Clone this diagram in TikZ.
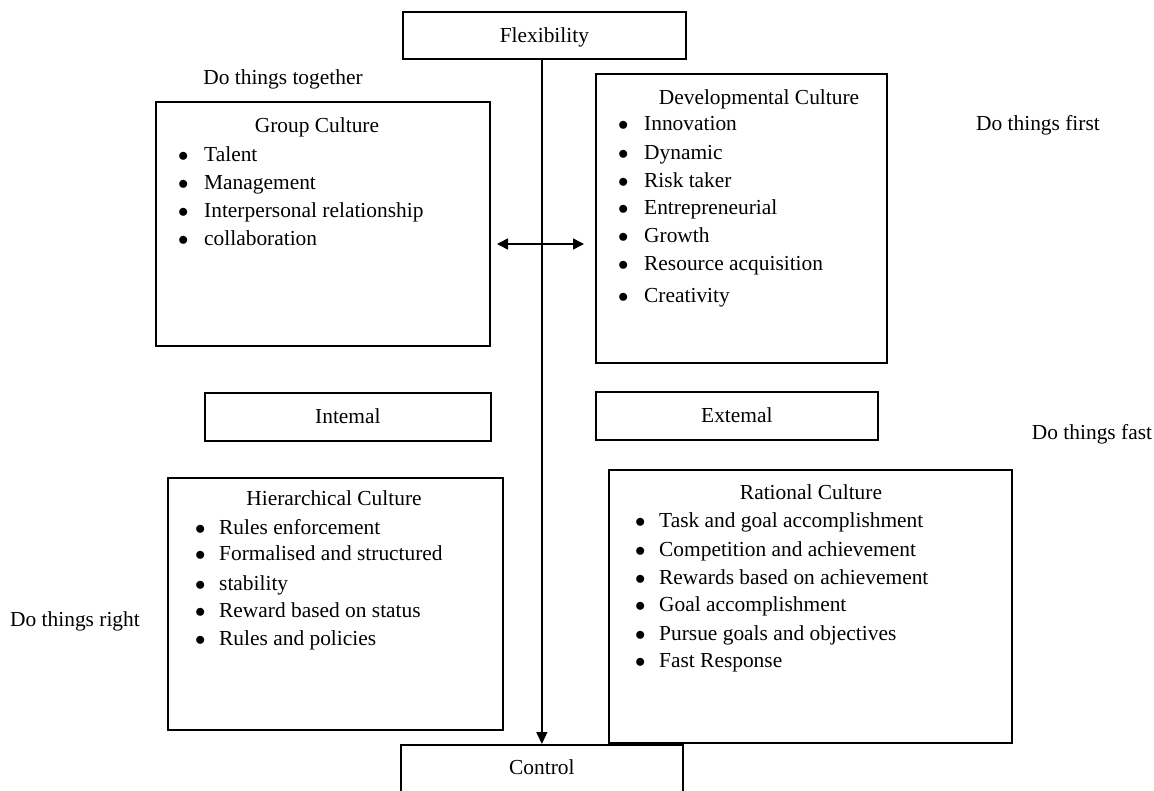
\documentclass[tikz,border=0pt]{standalone}
\usepackage{fontspec}
\setmainfont{Liberation Serif}
\usetikzlibrary{arrows.meta, positioning}
\newcommand{\bul}{\makebox[26pt][l]{$\bullet$}}
\tikzset{
  box/.style={draw, line width=1.7pt, anchor=north west, inner sep=0pt},
  title/.style={inner sep=0pt, text height=17pt, text depth=4pt},
  item/.style={anchor=west, inner sep=0pt, text height=17pt, text depth=4pt},
  tag/.style={inner sep=0pt, text height=17pt, text depth=4pt},
  arrow/.style={-{Triangle[length=12pt, width=11pt]}, line width=1.4pt},
  dblarrow/.style={{Triangle[length=11pt, width=11pt]}-{Triangle[length=11pt, width=11pt]}, line width=1.6pt},
  every node/.style={font=\fontsize{21.4}{26}\selectfont}
}

\begin{document}
\begin{tikzpicture}[x=1pt, y=-1pt]
    \useasboundingbox (0,0) rectangle (1154,790);
    % axis boxes
    \node[box, minimum width=283pt, minimum height=47pt] (flex) at (402,11) {};
    \node[tag] at ([yshift=-1pt]flex.center) (flextext) {Flexibility};
    \node[box, minimum width=282pt, minimum height=50pt] (control) at (400,744) {};
    \node[tag] at ([yshift=-24pt]control.north) (controltext) {Control};
    \node[box, minimum width=286pt, minimum height=48pt] (internal) at (204,392) {};
    \node[tag] at (internal.center) (internaltext) {Intemal};
    \node[box, minimum width=282pt, minimum height=48pt] (external) at (595,391) {};
    \node[tag] at (external.center) (externaltext) {Extemal};
    % culture boxes
    \node[box, minimum width=334pt, minimum height=244pt] (group) at (155,101) {};
    \node[box, minimum width=291pt, minimum height=289pt] (devel) at (595,73) {};
    \node[box, minimum width=335pt, minimum height=252pt] (hier) at (167,477) {};
    \node[box, minimum width=403pt, minimum height=273pt] (rational) at (608,469) {};
    \node[title] (grouptitle) at (317,126) {Group Culture};
    \node[title] (develtitle) at (759,98) {Developmental Culture};
    \node[title] (hiertitle) at (334,499) {Hierarchical Culture};
    \node[title] (rationaltitle) at (811,493) {Rational Culture};
    \foreach \y/\txt [count=\i] in {155/Talent, 183/Management, 211/Interpersonal relationship, 239/collaboration}
        \node[item] (group\i) at (178,\y) {\bul\txt};
    \foreach \y/\txt [count=\i] in {124/Innovation, 153/Dynamic, 181/Risk taker, 208/Entrepreneurial, 236/Growth, 264/Resource acquisition, 296/Creativity}
        \node[item] (devel\i) at (618,\y) {\bul\txt};
    \foreach \y/\txt [count=\i] in {528/Rules enforcement, 554/Formalised and structured, 584/stability, 611/Reward based on status, 639/Rules and policies}
        \node[item] (hier\i) at (195,\y) {\makebox[24pt][l]{$\bullet$}\txt};
    \foreach \y/\txt [count=\i] in {521/Task and goal accomplishment, 550/Competition and achievement, 578/Rewards based on achievement, 605/Goal accomplishment, 634/Pursue goals and objectives, 661/Fast Response}
        \node[item] (rational\i) at (635,\y) {\makebox[24pt][l]{$\bullet$}\txt};
    % side notes
    \node[tag] (together) at (283,78) {Do things together};
    \node[tag] (first) at (1038,124) {Do things first};
    \node[tag] (fast) at (1092,433) {Do things fast};
    \node[tag] (right) at (75,620) {Do things right};
    % arrows
    \draw[arrow] (flex.south -| control.north) -- (control.north);
    \coordinate (dblL) at (497,244);
    \coordinate (dblR) at (584,244);
    \draw[dblarrow] (dblL) -- (dblR);
\end{tikzpicture}
\end{document}
